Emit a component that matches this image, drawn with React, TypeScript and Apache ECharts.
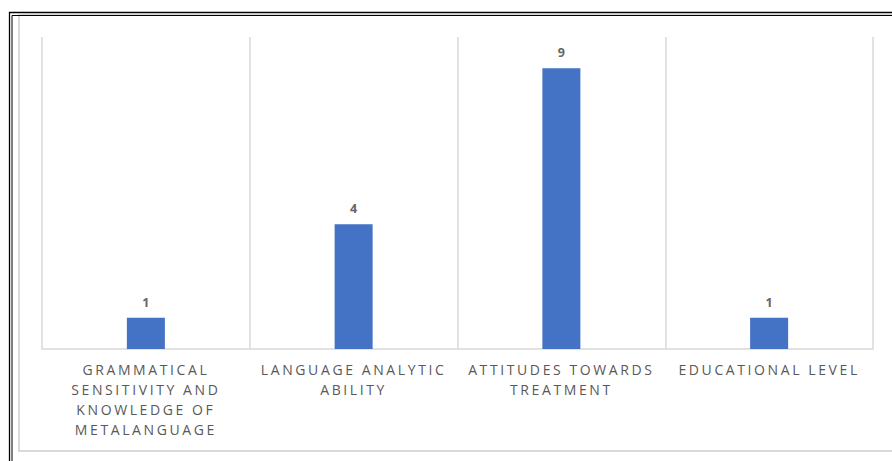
import React, { useEffect, useRef } from "react";
import * as echarts from "echarts";

const categories = [
  "GRAMMATICAL\nSENSITIVITY AND\nKNOWLEDGE OF\nMETALANGUAGE",
  "LANGUAGE ANALYTIC\nABILITY",
  "ATTITUDES TOWARDS\nTREATMENT",
  "EDUCATIONAL LEVEL",
];
const values = [1, 4, 9, 1];

export default function App() {
  const ref = useRef<HTMLDivElement>(null);
  useEffect(() => {
    if (!ref.current) return;
    const chart = echarts.init(ref.current, null, { renderer: "svg" });
    chart.setOption({
      animation: false,
      backgroundColor: "#ffffff",
      graphic: [
        { type: "rect", silent: true, shape: { x: 19, y: 15, width: 1000, height: 436 }, style: { fill: "none", stroke: "#d9d9d9", lineWidth: 2 } },
        { type: "rect", silent: true, shape: { x: 9.5, y: 12.5, width: 1000, height: 1000 }, style: { fill: "none", stroke: "#000", lineWidth: 1.3 } },
        { type: "rect", silent: true, shape: { x: 12, y: 15.5, width: 1000, height: 1000 }, style: { fill: "none", stroke: "#000", lineWidth: 1 } },
      ],
      grid: { left: 42, right: 19, top: 37, bottom: 112, containLabel: false },
      xAxis: {
        type: "category",
        data: categories,
        axisLine: { show: true, lineStyle: { color: "#d9d9d9", width: 1.5 } },
        axisTick: { show: false },
        splitLine: { show: true, lineStyle: { color: "#d9d9d9", width: 1.5 } },
        axisLabel: {
          interval: 0,
          margin: 10,
          color: "#595959",
          fontFamily: "Open Sans",
          fontSize: 14,
          lineHeight: 20,
        },
      },
      yAxis: {
        type: "value",
        min: 0,
        max: 10,
        interval: 1,
        axisLabel: { show: false },
        axisLine: { show: false },
        axisTick: { show: false },
        splitLine: { show: false },
      },
      series: [
        {
          type: "bar",
          data: values,
          barWidth: 38,
          silent: true,
          itemStyle: { color: "#4472C4" },
          label: {
            show: true,
            position: "top",
            distance: 9,
            color: "#666666",
            fontFamily: "Open Sans",
            fontWeight: "bold",
            fontSize: 12.5,
          },
        },
      ],
    });
    const svg = ref.current.querySelector("svg");
    if (svg) {
      svg.querySelectorAll("text").forEach((t) => {
        const s = t.textContent || "";
        if (/[A-Z]/.test(s)) t.setAttribute("letter-spacing", "2.6px");
      });
    }
    return () => chart.dispose();
  }, []);
  return (
    <div
      ref={ref}
      style={{ position: "absolute", left: 0, top: 0, width: 892, height: 461 }}
    />
  );
}
